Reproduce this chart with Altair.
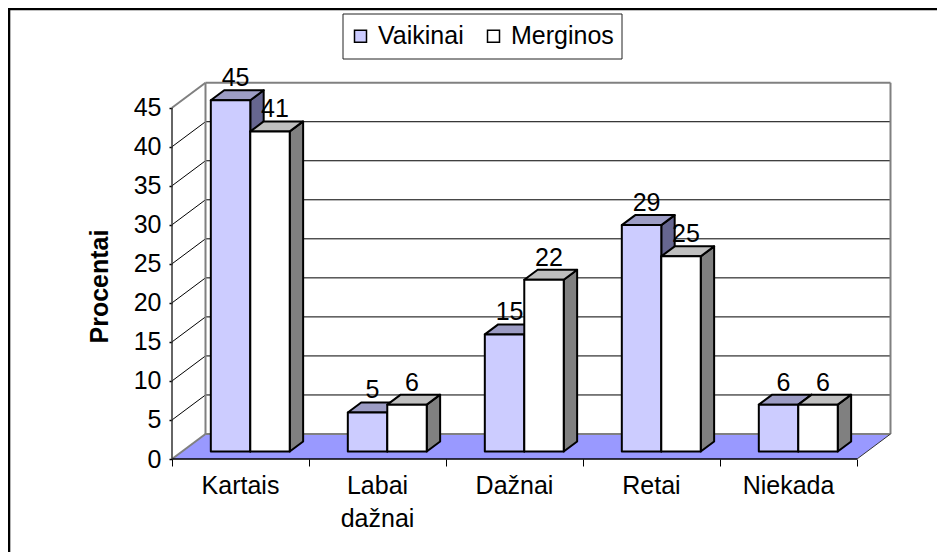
import altair as alt
import pandas as pd

categories = ["Kartais", "Labai\ndažnai", "Dažnai", "Retai", "Niekada"]
vaikinai = [45, 5, 15, 29, 6]
merginos = [41, 6, 22, 25, 6]
y_ticks = [0, 5, 10, 15, 20, 25, 30, 35, 40, 45]
x_ticks = [0, 1, 2, 3, 4, 5]
series_names = ["Vaikinai", "Merginos"]

FONT = "Liberation Sans"
FS = 25
W, H = 929, 544
UX, UY = 137.0, 7.807          # px per category / per percent
X0, Y0 = 164.0, 451.0          # origin of the front floor corner in the plot area
DX, DY = 33.5 / UX, 25.0 / UY  # oblique projection of full depth
BAR_D0, BAR_D1 = 0.30, 0.70
BAR_START, BAR_W = 0.21, 0.288

xs = alt.Scale(domain=[-X0 / UX, (W - X0) / UX], range=[0, W], nice=False, zero=False)
ys = alt.Scale(domain=[(Y0 - H) / UY, Y0 / UY], range=[H, 0], nice=False, zero=False)

x_axis = alt.Axis(values=x_ticks, offset=-(H - Y0), grid=False, domain=False, labels=False,
                  tickSize=7, tickColor="black", tickWidth=1)
y_axis = alt.Axis(values=y_ticks, offset=-X0, grid=False, domain=False, tickSize=3, tickColor="black",
                  tickWidth=1.5, labelFont=FONT, labelFontSize=FS, labelColor="black", labelPadding=8,
                  titleFont=FONT, titleFontSize=25, titleFontWeight="bold", titleColor="black",
                  titleX=-60, titleY=278)


def X(f="x", **k):
    return alt.X(f"{f}:Q", scale=xs, axis=x_axis, title=None, **k)


def Y(f="y", **k):
    return alt.Y(f"{f}:Q", scale=ys, axis=y_axis, title="Procentai", **k)


def rule(rows, color, width):
    d = pd.DataFrame(rows, columns=["x", "x2", "y", "y2"])
    return alt.Chart(d).mark_rule(color=color, strokeWidth=width).encode(
        x=X(), x2="x2:Q", y=Y(), y2="y2:Q")


def diag(levels, color, width, x=0.0):
    rows = []
    for v in levels:
        rows.append({"k": v, "x": x, "y": v})
        rows.append({"k": v, "x": x + DX, "y": v + DY})
    return alt.Chart(pd.DataFrame(rows)).mark_line(color=color, strokeWidth=width).encode(
        x=X(), y=Y(), detail="k:N")


floor = pd.DataFrame([
    {"y": 0.0, "x": 0.0, "b": 5.0},
    {"y": DY, "x": DX, "b": 5.0 + DX},
])
floor_layer = alt.Chart(floor).mark_area(orient="horizontal", color="#9999FF").encode(
    y=Y(), x=X(), x2="b:Q")

grid_levels = [v for v in y_ticks if v not in (0, 45)]
layers = [
    floor_layer,
    rule([[DX, 5 + DX, v + DY, v + DY] for v in grid_levels], "black", 1),
    diag(grid_levels, "black", 1),
    rule([[DX, 5 + DX, DY, DY], [DX, 5 + DX, 45 + DY, 45 + DY]], "#808080", 2),
    rule([[DX, DX, DY, 45 + DY], [5 + DX, 5 + DX, DY, 45 + DY]], "#808080", 2),
    diag([0, 45], "#808080", 2),
    diag([0], "#333333", 1, x=5.0),
    rule([[0, 5, 0, 0]], "black", 1.5),
    rule([[0, 0, 0, 45]], "#333333", 1.5),
]

STROKE = dict(stroke="black", strokeWidth=2, strokeJoin="round")
color = alt.Color("s:N", scale=alt.Scale(domain=series_names, range=["#CCCCFF", "#FFFFFF"]),
                  legend=alt.Legend(
                      title=None, orient="none", legendX=332, legendY=7.5, direction="horizontal",
                      columns=2, symbolType="square", symbolSize=144, symbolStrokeColor="black",
                      symbolStrokeWidth=1.5, labelFont=FONT, labelFontSize=FS, labelColor="black",
                      labelOffset=5, columnPadding=17, padding=8, labelLimit=200))

palette = {"Vaikinai": ("#9C9CC4", "#666690"), "Merginos": ("#BFBFBF", "#808080")}

for si, (name, vals) in enumerate(zip(series_names, [vaikinai, merginos])):
    sides, tops, fronts = [], [], []
    for c, v in enumerate(vals):
        x0 = c + BAR_START + si * BAR_W + BAR_D0 * DX
        x1 = x0 + BAR_W
        dd = (BAR_D1 - BAR_D0)
        base = BAR_D0 * DY
        fronts.append({"s": name, "x": x0, "x2": x1, "y": base, "y2": base + v})
        sides += [
            {"k": c, "x": x1, "y": base, "y2": base + v},
            {"k": c, "x": x1 + dd * DX, "y": base + dd * DY, "y2": base + dd * DY + v},
        ]
        tops += [
            {"k": c, "y": base + v, "x": x0, "x2": x1},
            {"k": c, "y": base + v + dd * DY, "x": x0 + dd * DX, "x2": x1 + dd * DX},
        ]
    top_c, side_c = palette[name]
    layers.append(alt.Chart(pd.DataFrame(sides)).mark_area(color=side_c, **STROKE).encode(
        x=X(), y=Y(), y2="y2:Q", detail="k:N"))
    layers.append(alt.Chart(pd.DataFrame(tops)).mark_area(orient="horizontal", color=top_c, **STROKE).encode(
        y=Y(), x=X(), x2="x2:Q", detail="k:N"))
    layers.append(alt.Chart(pd.DataFrame(fronts)).mark_rect(**STROKE).encode(
        x=X(), x2="x2:Q", y=Y(), y2="y2:Q", color=color))

labels = []
for si, vals in enumerate([vaikinai, merginos]):
    for c, v in enumerate(vals):
        labels.append({"x": c + BAR_START + (si + 0.5) * BAR_W + BAR_D0 * DX,
                       "y": BAR_D0 * DY + v, "t": str(v)})
layers.append(alt.Chart(pd.DataFrame(labels)).mark_text(
    font=FONT, fontSize=FS, color="black", baseline="alphabetic", align="center", dx=5, dy=-14
).encode(x=X(), y=Y(), text="t:N"))

cat_df = pd.DataFrame({"x": [i + 0.5 for i in range(len(categories))],
                       "y": [-35 / UY] * len(categories), "t": categories})
layers.append(alt.Chart(cat_df).mark_text(
    font=FONT, fontSize=FS, color="black", baseline="alphabetic", align="center",
    lineBreak="\n", lineHeight=33
).encode(x=X(), y=Y(), text="t:N"))

# legend box
layers.append(alt.Chart(pd.DataFrame({"a": [0]})).mark_rect(
    fill="white", stroke="#222222", strokeWidth=1).encode(
    x=alt.value(335), x2=alt.value(614), y=alt.value(6), y2=alt.value(51)))

# chart frame: only its top and left edges fall inside the picture
layers.append(alt.Chart(pd.DataFrame({"a": [0]})).mark_rule(color="black", strokeWidth=2.6).encode(
    x=alt.value(0), x2=alt.value(W), y=alt.value(1)))
layers.append(alt.Chart(pd.DataFrame({"a": [0]})).mark_rule(color="black", strokeWidth=2.6).encode(
    y=alt.value(0), y2=alt.value(H), x=alt.value(1)))

chart = alt.layer(*layers).properties(
    width=W, height=H, autosize="none", padding=0
).configure_view(stroke=None)

chart.save("out.html", embed_options={"renderer": "svg", "actions": False})
